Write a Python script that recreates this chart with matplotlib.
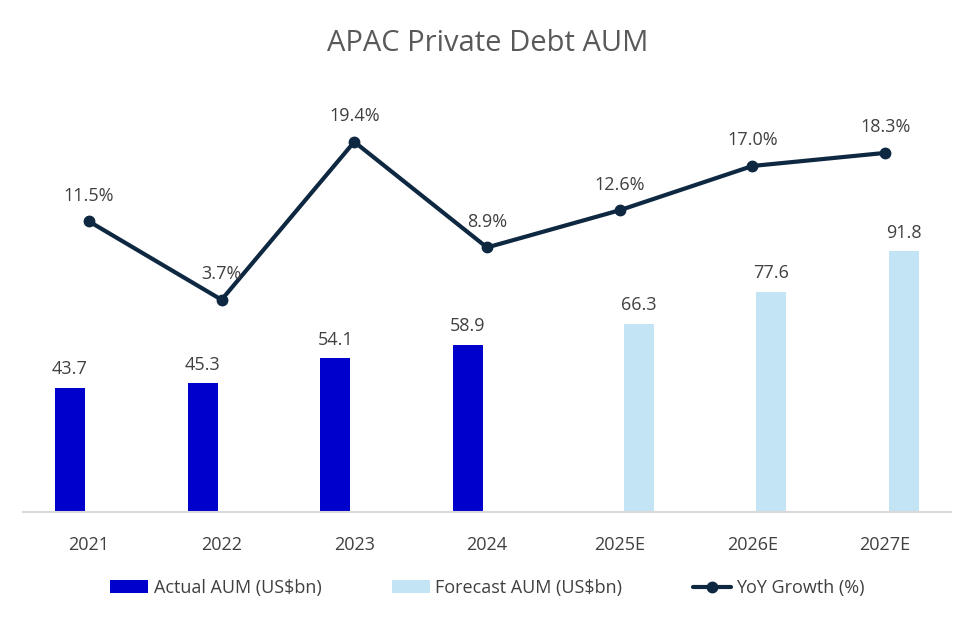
import numpy as np
import matplotlib.pyplot as plt

plt.rcParams['font.family'] = ['Open Sans', 'DejaVu Sans']

# data
years = ['2021', '2022', '2023', '2024', '2025E', '2026E', '2027E']
actual_aum = [43.7, 45.3, 54.1, 58.9, np.nan, np.nan, np.nan]
forecast_aum = [np.nan, np.nan, np.nan, np.nan, 66.3, 77.6, 91.8]
yoy_growth = [11.5, 3.7, 19.4, 8.9, 12.6, 17.0, 18.3]

c_actual = '#0000CC'
c_forecast = '#C3E4F5'
c_line = '#0E2841'
c_text = '#404040'

fig = plt.figure(figsize=(9.75, 6.21), dpi=100)
ax = fig.add_axes([22.5 / 975, (621 - 512) / 621, 929 / 975, (512 - 90) / 621])
ax2 = ax.twinx()

x = np.arange(len(years))
w = 0.226
off = 0.143
ax.bar(x - off, actual_aum, w, color=c_actual, label='Actual AUM (US$bn)', zorder=2)
ax.bar(x + off, forecast_aum, w, color=c_forecast, label='Forecast AUM (US$bn)', zorder=2)

for i in range(len(years)):
    if not np.isnan(actual_aum[i]):
        ax.annotate(f'{actual_aum[i]:.1f}', (x[i] - off, actual_aum[i]), xytext=(0, 7),
                    textcoords='offset points', ha='center', va='bottom', fontsize=13, color=c_text)
    if not np.isnan(forecast_aum[i]):
        ax.annotate(f'{forecast_aum[i]:.1f}', (x[i] + off, forecast_aum[i]), xytext=(0, 7),
                    textcoords='offset points', ha='center', va='bottom', fontsize=13, color=c_text)

ax2.plot(x, yoy_growth, color=c_line, lw=3, marker='o', ms=7.5, label='YoY Growth (%)',
         solid_capstyle='round', zorder=3)
for i, v in enumerate(yoy_growth):
    ax2.annotate(f'{v:.1f}%', (x[i], v), xytext=(0, 12), textcoords='offset points',
                 ha='center', va='bottom', fontsize=13, color=c_text)

ax.set_xlim(-0.5, len(years) - 0.5)
ax.set_ylim(0, (512 - 90) / 2.84)
ax2.set_ylim(-(512 - 337) / 10.06, (337 - 90) / 10.06)

ax.set_xticks(x)
ax.set_xticklabels(years, fontsize=13, color=c_text)
ax.tick_params(axis='x', length=0, pad=17)
ax.set_yticks([])
ax2.set_yticks([])
for a in (ax, ax2):
    for s in ['top', 'right', 'left', 'bottom']:
        a.spines[s].set_visible(False)
ax.spines['bottom'].set_visible(True)
ax.spines['bottom'].set_color('#D9D9D9')
ax.spines['bottom'].set_linewidth(1.5)
ax.patch.set_visible(False)

fig.suptitle('APAC Private Debt AUM', y=0.953, fontsize=21, color='#595959')

h1, l1 = ax.get_legend_handles_labels()
h2, l2 = ax2.get_legend_handles_labels()
fig.legend(h1 + h2, l1 + l2, loc='center', bbox_to_anchor=(0.5, (621 - 588) / 621), ncol=3,
           frameon=False, fontsize=13, labelcolor=c_text, handlelength=2.1, handletextpad=0.3,
           columnspacing=3.9)

fig.savefig('out.png', dpi=100)
